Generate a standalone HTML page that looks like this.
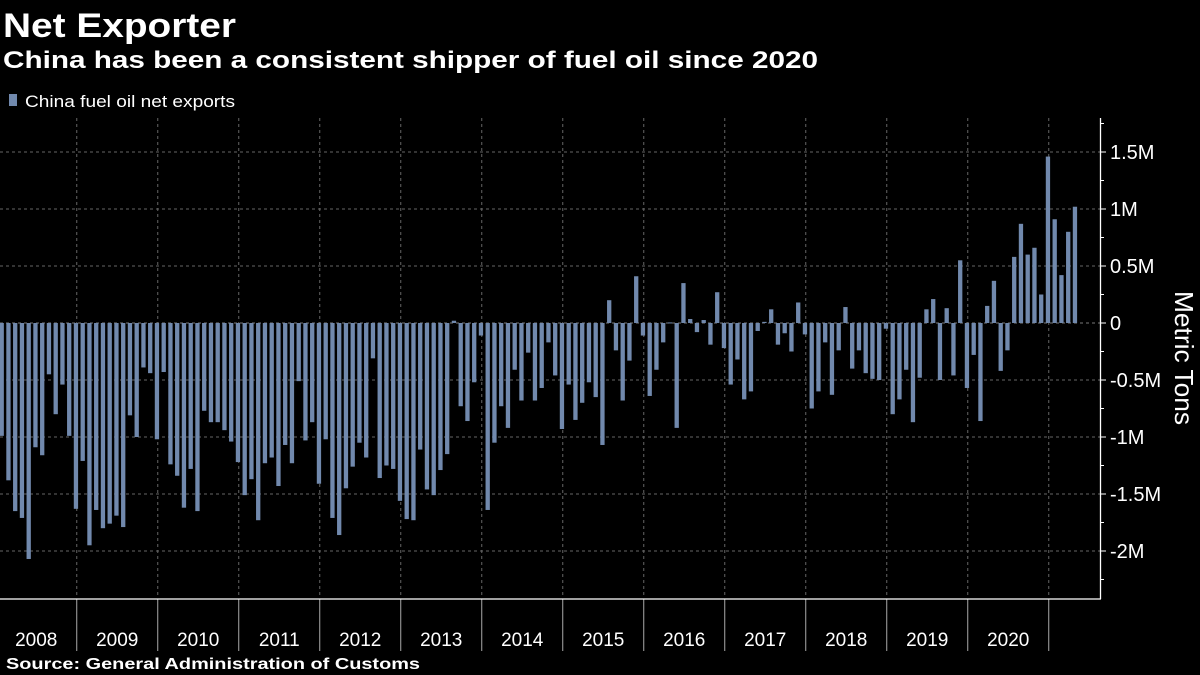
<!DOCTYPE html>
<html><head><meta charset="utf-8"><style>
html,body{margin:0;padding:0;background:#000;}
svg{display:block;font-family:"Liberation Sans",sans-serif;}
</style></head><body>
<svg id="chart" width="1200" height="675" viewBox="0 0 1200 675">
<rect width="1200" height="675" fill="#000"/>
<text x="3" y="37" fill="#fff" font-weight="bold" font-size="34" textLength="233" lengthAdjust="spacingAndGlyphs">Net Exporter</text>
<text x="3" y="68" fill="#fff" font-weight="bold" font-size="24" textLength="815" lengthAdjust="spacingAndGlyphs">China has been a consistent shipper of fuel oil since 2020</text>
<rect x="9" y="94" width="8" height="12" fill="#7189ad"/>
<text x="25" y="107" fill="#fff" font-size="17" textLength="210" lengthAdjust="spacingAndGlyphs">China fuel oil net exports</text>
<g id="grid"></g><g id="bars"></g><g id="axes"></g>
<text transform="translate(1175,358) rotate(90)" text-anchor="middle" fill="#fff" font-size="26" textLength="134" lengthAdjust="spacingAndGlyphs">Metric Tons</text>
<text x="6" y="669" fill="#fff" font-weight="bold" font-size="16" textLength="414" lengthAdjust="spacingAndGlyphs">Source:  General Administration of Customs</text>
</svg>
<script>
const values = [
-0.99,-1.38,-1.65,-1.71,-2.07,-1.09,-1.16,-0.45,-0.80,-0.54,-0.99,-1.63,
-1.21,-1.95,-1.64,-1.80,-1.76,-1.69,-1.79,-0.81,-1.00,-0.39,-0.44,-1.02,
-0.43,-1.24,-1.34,-1.62,-1.28,-1.65,-0.77,-0.87,-0.87,-0.94,-1.04,-1.22,
-1.51,-1.37,-1.73,-1.23,-1.18,-1.43,-1.07,-1.23,-0.51,-1.03,-0.87,-1.41,
-1.02,-1.71,-1.86,-1.45,-1.26,-1.05,-1.18,-0.31,-1.36,-1.25,-1.28,-1.56,
-1.72,-1.73,-1.11,-1.46,-1.51,-1.29,-1.15,0.02,-0.73,-0.86,-0.52,-0.11,-1.64,
-1.05,-0.73,-0.92,-0.41,-0.68,-0.26,-0.68,-0.57,-0.17,-0.46,-0.93,-0.54,
-0.85,-0.70,-0.52,-0.65,-1.07,0.20,-0.24,-0.68,-0.33,0.41,-0.11,-0.64,
-0.41,-0.17,0.005,-0.92,0.35,0.035,-0.08,0.026,-0.19,0.27,-0.22,
-0.54,-0.32,-0.67,-0.60,-0.07,0.01,0.12,-0.19,-0.09,-0.25,0.18,-0.10,
-0.75,-0.60,-0.17,-0.63,-0.24,0.14,-0.40,-0.24,-0.44,-0.49,-0.50,-0.05,
-0.80,-0.67,-0.41,-0.87,-0.48,0.12,0.21,-0.50,0.13,-0.46,0.55,
-0.57,-0.28,-0.86,0.15,0.37,-0.42,-0.24,0.58,0.87,0.60,0.66,0.25,1.46,0.91,0.42,0.80,1.02
];
const yearLabels = ["2008","2009","2010","2011","2012","2013","2014","2015","2016","2017","2018","2019","2020"];
const yTicks = [1.5,1,0.5,0,-0.5,-1,-1.5,-2];
const yTickLabels = ["1.5M","1M","0.5M","0","-0.5M","-1M","-1.5M","-2M"];
const minorTicks = [1.75,1.25,0.75,0.25,-0.25,-0.75,-1.25,-1.75,-2.25];

const NS="http://www.w3.org/2000/svg";
const X0=1.7, STEP=6.75, BW=4.3;
const xScale = i => X0 + i*STEP;
const yScale = v => 323 - v*114;
const gridX = k => xScale(11 + 12*k) + 0.8;
function mk(tag, attrs, parent){const e=document.createElementNS(NS,tag);for(const k in attrs)e.setAttribute(k,attrs[k]);parent.appendChild(e);return e;}
const grid=document.getElementById('grid'), bars=document.getElementById('bars'), axes=document.getElementById('axes');

yTicks.forEach((v,i)=>{
  if(v===0) return;
  const l=mk('line',{x1:0,x2:1100,y1:yScale(v),y2:yScale(v),stroke:'#666','stroke-dasharray':'3,3','stroke-width':1},grid);
  
  
});
for(let k=0;k<13;k++){
  const x=gridX(k);
  const l=mk('line',{x1:x,x2:x,y1:118,y2:598,stroke:'#666','stroke-dasharray':'3,3','stroke-width':1},grid);
  
  
  const s=mk('line',{x1:x,x2:x,y1:599,y2:651,stroke:'#aaa','stroke-width':1},axes);
  
  
}
const z=mk('line',{x1:0,x2:1100,y1:yScale(0),y2:yScale(0),stroke:'#777','stroke-dasharray':'3,3'},grid);



values.forEach((v,i)=>{
  const y=Math.min(yScale(v),yScale(0)), h=Math.abs(yScale(v)-yScale(0));
  const r=mk('rect',{x:xScale(i)-BW/2,y:y,width:BW,height:Math.max(h,1),fill:'#7189ad'},bars);
  
  
});

const ax=mk('line',{x1:1100.5,x2:1100.5,y1:118,y2:599,stroke:'#fff','stroke-width':1.3},axes);


const bx=mk('line',{x1:0,x2:1101,y1:599,y2:599,stroke:'#fff','stroke-width':1.3},axes);


yTicks.forEach((v,i)=>{
  const y=yScale(v);
  const t=mk('line',{x1:1100,x2:1106,y1:y,y2:y,stroke:'#fff'},axes);
  
  
  const tx=mk('text',{x:1110,y:y+7,fill:'#fff','font-size':20},axes);
  tx.textContent=yTickLabels[i];
  
  
});
minorTicks.forEach(v=>{
  const y=yScale(v);
  const t=mk('line',{x1:1100,x2:1104,y1:y,y2:y,stroke:'#fff'},axes);
  
  
});
yearLabels.forEach((lab,k)=>{
  const x=(gridX(k-1)+gridX(k))/2;
  const t=mk('text',{x:x,y:646,fill:'#fff','font-size':19,'text-anchor':'middle'},axes);
  t.textContent=lab;
  
  
});
</script>
</body></html>
